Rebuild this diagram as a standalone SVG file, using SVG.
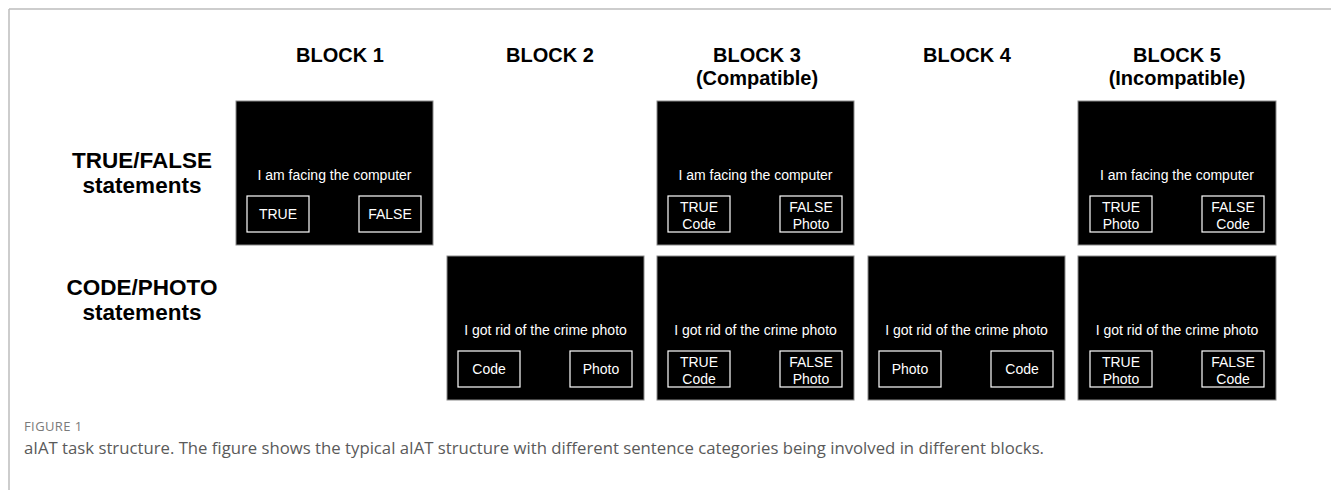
<svg xmlns="http://www.w3.org/2000/svg" width="1331" height="490" viewBox="0 0 1331 490">
<style>
.hdr{font-family:"Liberation Sans",Arial,sans-serif;font-weight:bold;font-size:20px;fill:#000;text-anchor:middle}
.row{font-family:"Liberation Sans",Arial,sans-serif;font-weight:bold;font-size:22.5px;fill:#000;text-anchor:middle}
.scr{fill:#000;stroke:#8a8a8a;stroke-width:1}
.btn{fill:none;stroke:#fff;stroke-width:1.2}
.st{font-family:"Liberation Sans",Arial,sans-serif;font-size:14px;fill:#fff;text-anchor:middle}
.fig{font-family:"Open Sans","Noto Sans",sans-serif;font-size:13px;letter-spacing:0.4px;fill:#7a7a7a}
.cap{font-family:"Open Sans","Noto Sans",sans-serif;font-size:16px;fill:#5a5a5a}
</style>
<rect x="0" y="0" width="1331" height="490" fill="#fff"/>
<g id="frame" stroke="#bdbdbd" stroke-width="1.5" fill="none">
<line x1="9" y1="9" x2="1331" y2="9"/>
<line x1="9" y1="9" x2="9" y2="490"/>
</g>
<g id="headers">
<text class="hdr" x="340" y="62">BLOCK 1</text>
<text class="hdr" x="550" y="62">BLOCK 2</text>
<text class="hdr" x="757" y="62">BLOCK 3</text>
<text class="hdr" x="757" y="85">(Compatible)</text>
<text class="hdr" x="967" y="62">BLOCK 4</text>
<text class="hdr" x="1177" y="62">BLOCK 5</text>
<text class="hdr" x="1177" y="85">(Incompatible)</text>
</g>
<g id="rowlabels">
<text class="row" x="142" y="168">TRUE/FALSE</text>
<text class="row" x="142" y="193">statements</text>
<text class="row" x="142" y="295">CODE/PHOTO</text>
<text class="row" x="142" y="320">statements</text>
</g>
<g id="b1-tf">
<rect class="scr" x="236" y="101" width="197" height="144"/>
<text class="st" x="334.5" y="180">I am facing the computer</text>
<rect class="btn" x="247" y="196" width="62" height="36"/>
<text class="st" x="278" y="219">TRUE</text>
<rect class="btn" x="359" y="196" width="62" height="36"/>
<text class="st" x="390" y="219">FALSE</text>
</g>
<g id="b2-cp">
<rect class="scr" x="447" y="256" width="197" height="144"/>
<text class="st" x="545.5" y="335">I got rid of the crime photo</text>
<rect class="btn" x="458" y="351" width="62" height="36"/>
<text class="st" x="489" y="374">Code</text>
<rect class="btn" x="570" y="351" width="62" height="36"/>
<text class="st" x="601" y="374">Photo</text>
</g>
<g id="b3-tf">
<rect class="scr" x="657" y="101" width="197" height="144"/>
<text class="st" x="755.5" y="180">I am facing the computer</text>
<rect class="btn" x="668" y="196" width="62" height="36"/>
<text class="st" x="699" y="212">TRUE</text>
<text class="st" x="699" y="229">Code</text>
<rect class="btn" x="780" y="196" width="62" height="36"/>
<text class="st" x="811" y="212">FALSE</text>
<text class="st" x="811" y="229">Photo</text>
</g>
<g id="b3-cp">
<rect class="scr" x="657" y="256" width="197" height="144"/>
<text class="st" x="755.5" y="335">I got rid of the crime photo</text>
<rect class="btn" x="668" y="351" width="62" height="36"/>
<text class="st" x="699" y="367">TRUE</text>
<text class="st" x="699" y="384">Code</text>
<rect class="btn" x="780" y="351" width="62" height="36"/>
<text class="st" x="811" y="367">FALSE</text>
<text class="st" x="811" y="384">Photo</text>
</g>
<g id="b4-cp">
<rect class="scr" x="868" y="256" width="197" height="144"/>
<text class="st" x="966.5" y="335">I got rid of the crime photo</text>
<rect class="btn" x="879" y="351" width="62" height="36"/>
<text class="st" x="910" y="374">Photo</text>
<rect class="btn" x="991" y="351" width="62" height="36"/>
<text class="st" x="1022" y="374">Code</text>
</g>
<g id="b5-tf">
<rect class="scr" x="1078" y="101" width="198" height="144"/>
<text class="st" x="1177" y="180">I am facing the computer</text>
<rect class="btn" x="1090" y="196" width="62" height="36"/>
<text class="st" x="1121" y="212">TRUE</text>
<text class="st" x="1121" y="229">Photo</text>
<rect class="btn" x="1202" y="196" width="62" height="36"/>
<text class="st" x="1233" y="212">FALSE</text>
<text class="st" x="1233" y="229">Code</text>
</g>
<g id="b5-cp">
<rect class="scr" x="1078" y="256" width="198" height="144"/>
<text class="st" x="1177" y="335">I got rid of the crime photo</text>
<rect class="btn" x="1090" y="351" width="62" height="36"/>
<text class="st" x="1121" y="367">TRUE</text>
<text class="st" x="1121" y="384">Photo</text>
<rect class="btn" x="1202" y="351" width="62" height="36"/>
<text class="st" x="1233" y="367">FALSE</text>
<text class="st" x="1233" y="384">Code</text>
</g>
<g id="connectors"></g>
<g id="caption">
<text class="fig" x="24" y="431">FIGURE 1</text>
<text class="cap" x="24" y="454" textLength="1020" lengthAdjust="spacingAndGlyphs">aIAT task structure. The figure shows the typical aIAT structure with different sentence categories being involved in different blocks.</text>
</g>
</svg>
